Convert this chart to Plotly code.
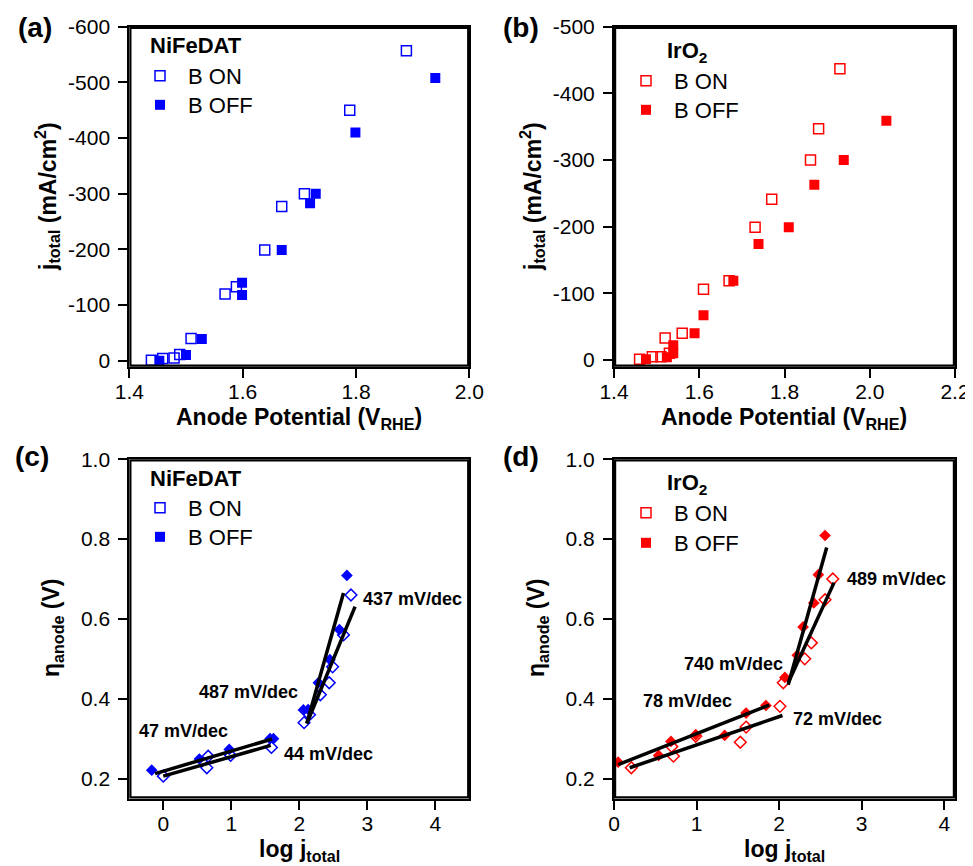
import plotly.graph_objects as go

# ---------------- data ----------------
# (a) NiFeDAT polarisation
a_on_x = [1.439, 1.459, 1.479, 1.489, 1.509, 1.569, 1.589, 1.639, 1.669, 1.709, 1.789, 1.889]
a_on_y = [-1, -4, -5, -11, -40, -120, -133, -199, -277, -300, -450, -557]
a_off_x = [1.453, 1.500, 1.528, 1.599, 1.599, 1.669, 1.719, 1.729, 1.799, 1.940]
a_off_y = [0, -10, -39, -140, -118, -199, -283, -300, -410, -508]

# (b) IrO2 polarisation
b_on_x = [1.460, 1.490, 1.510, 1.520, 1.530, 1.560, 1.610, 1.670, 1.731, 1.770, 1.861, 1.880, 1.930]
b_on_y = [-1, -5, -5, -33, -10, -40, -106, -119, -199, -241, -300, -347, -437]
b_off_x = [1.475, 1.524, 1.539, 1.539, 1.589, 1.610, 1.680, 1.739, 1.810, 1.870, 1.939, 2.039]
b_off_y = [-1, -4, -22, -10, -40, -67, -119, -174, -199, -263, -300, -359]

# (c) NiFeDAT Tafel
c_on_x = [0.0, 0.64, 0.66, 0.99, 1.59, 2.07, 2.15, 2.31, 2.44, 2.49, 2.65, 2.76]
c_on_y = [0.206, 0.227, 0.256, 0.258, 0.278, 0.34, 0.36, 0.41, 0.44, 0.48, 0.56, 0.66]
c_off_x = [-0.17, 0.53, 0.97, 1.57, 1.62, 2.06, 2.13, 2.28, 2.45, 2.59, 2.70]
c_off_y = [0.221, 0.249, 0.273, 0.30, 0.30, 0.372, 0.373, 0.44, 0.498, 0.573, 0.709]
c_fits = [  # (x0, x1), (y0, y1)
    ([-0.12, 1.60], [0.2125, 0.299]),
    ([0.0, 1.58], [0.206, 0.283]),
    ([2.11, 2.65], [0.338, 0.665]),
    ([2.11, 2.82], [0.338, 0.631]),
]
c_labels = ["47 mV/dec", "44 mV/dec", "487 mV/dec", "437 mV/dec"]
c_label_x = [0.29, 2.43, 1.25, 3.67]
c_label_y = [0.318, 0.262, 0.416, 0.650]

# (d) IrO2 Tafel
d_on_x = [0.21, 0.70, 0.72, 0.99, 1.53, 1.60, 2.01, 2.05, 2.31, 2.39, 2.556, 2.65]
d_on_y = [0.227, 0.280, 0.256, 0.306, 0.291, 0.329, 0.381, 0.440, 0.500, 0.540, 0.648, 0.700]
d_off_x = [0.05, 0.54, 0.69, 0.99, 1.34, 1.60, 1.84, 2.07, 2.22, 2.29, 2.42, 2.475, 2.556]
d_off_y = [0.241, 0.258, 0.293, 0.310, 0.308, 0.364, 0.383, 0.4535, 0.509, 0.580, 0.640, 0.711, 0.809]
d_fits = [
    ([0.05, 1.88], [0.235, 0.384]),
    ([0.19, 2.04], [0.227, 0.358]),
    ([2.11, 2.576], [0.435, 0.779]),
    ([2.11, 2.665], [0.440, 0.691]),
]
d_labels = ["78 mV/dec", "72 mV/dec", "740 mV/dec", "489 mV/dec"]
d_label_x = [0.89, 2.71, 1.445, 3.42]
d_label_y = [0.394, 0.348, 0.487, 0.700]

# tick positions / labels
a_xticks = [1.4, 1.6, 1.8, 2.0]
a_xminor = [1.5, 1.7, 1.9]
a_ytick_vals = [0, -100, -200, -300, -400, -500, -600]
a_ytick_text = ["0", "-100", "-200", "-300", "-400", "-500", "-600"]
a_yminor = [-50, -150, -250, -350, -450, -550]
b_xticks = [1.4, 1.6, 1.8, 2.0, 2.2]
b_xminor = [1.5, 1.7, 1.9, 2.1]
b_ytick_vals = [0, -100, -200, -300, -400, -500]
b_ytick_text = ["0", "-100", "-200", "-300", "-400", "-500"]
b_yminor = [-50, -150, -250, -350, -450]
cd_xticks = [0, 1, 2, 3, 4]
cd_xminor = [0.5, 1.5, 2.5, 3.5]
cd_yticks = [0.2, 0.4, 0.6, 0.8, 1.0]
cd_yminor = [0.3, 0.5, 0.7, 0.9]

BLUE = "#0000FF"
RED = "#FF0000"
FONT = "Liberation Sans, Arial, sans-serif"
OFF = 8                     # page body margin
FULL_W, FULL_H = 973, 866
W, H = FULL_W - OFF, FULL_H - OFF

# plot-area boxes in page pixels (left, right, top, bottom) and axis ranges
BOX_A = (129.3, 469.3, 26.7, 366.7)
BOX_B = (614.0, 955.0, 26.7, 366.7)
BOX_C = (129.3, 469.3, 459.3, 798.5)
BOX_D = (614.0, 955.0, 459.3, 798.5)
RANGE_A = ([1.4, 2.0], [10.8, -600])
RANGE_B = ([1.4, 2.2], [10, -500])
RANGE_C = ([-0.5, 4.5], [0.15, 1.0])
RANGE_D = ([0, 4.13], [0.15, 1.0])

fig = go.Figure()


def px(x):
    return (x - OFF) / W


def py(y):
    return 1 - (y - OFF) / H


def add_pts(x, y, color, symbol, filled, xa, ya, name, leg, showleg, size=10):
    fig.add_trace(go.Scatter(
        x=x, y=y, mode="markers", name=name, xaxis=xa, yaxis=ya,
        legend=leg, showlegend=showleg, hoverinfo="skip",
        marker=dict(symbol=symbol, size=size, color=color,
                    line=dict(color=color, width=1.5 if not filled else 0)),
    ))


def add_legend_dummy(name, color, filled, xa, ya, leg):
    fig.add_trace(go.Scatter(x=[None], y=[None], mode="markers", name=name,
                             xaxis=xa, yaxis=ya, legend=leg, showlegend=True,
                             marker=dict(symbol="square" if filled else "square-open",
                                         size=10, color=color,
                                         line=dict(color=color, width=0 if filled else 1.5))))


def frame_and_ticks(xa, ya, box, rng, xmaj, xmin, ymaj, ymin):
    """Plot frame as a line trace on the subplot edges; tick marks as unclipped line markers."""
    L, R, T, B = box
    (x0, x1), (y0, y1) = rng
    fig.add_trace(go.Scatter(x=[x0, x1, x1, x0, x0], y=[y0, y0, y1, y1, y0], mode="lines",
                             xaxis=xa, yaxis=ya, showlegend=False, hoverinfo="skip",
                             line=dict(color="black", width=4.4)))
    ux = (x1 - x0) / (R - L)      # data units per pixel
    uy = (y1 - y0) / (B - T)
    tx, ty, ts = [], [], []
    for vals, ln in ((xmaj, 9), (xmin, 5)):
        for v in vals:
            tx.append(v)
            ty.append(y0 - (ln / 2 + 1) * uy)
            ts.append(ln / 1.4)
    fig.add_trace(go.Scatter(x=tx, y=ty, mode="markers", xaxis=xa, yaxis=ya, cliponaxis=False,
                             showlegend=False, hoverinfo="skip",
                             marker=dict(symbol="line-ns", size=ts, color="black",
                                         line=dict(color="black", width=2))))
    tx, ty, ts = [], [], []
    for vals, ln in ((ymaj, 9), (ymin, 5)):
        for v in vals:
            ty.append(v)
            tx.append(x0 - (ln / 2 + 1) * ux)
            ts.append(ln / 1.4)
    fig.add_trace(go.Scatter(x=tx, y=ty, mode="markers", xaxis=xa, yaxis=ya, cliponaxis=False,
                             showlegend=False, hoverinfo="skip",
                             marker=dict(symbol="line-ew", size=ts, color="black",
                                         line=dict(color="black", width=2))))


# (a)
add_pts(a_on_x, a_on_y, BLUE, "square-open", False, "x", "y", "B ON", "legend", True)
add_pts(a_off_x, a_off_y, BLUE, "square", True, "x", "y", "B OFF", "legend2", True)
frame_and_ticks("x", "y", BOX_A, RANGE_A, a_xticks, a_xminor, a_ytick_vals, a_yminor)
# (b)
add_pts(b_on_x, b_on_y, RED, "square-open", False, "x2", "y2", "B ON", "legend3", True)
add_pts(b_off_x, b_off_y, RED, "square", True, "x2", "y2", "B OFF", "legend4", True)
frame_and_ticks("x2", "y2", BOX_B, RANGE_B, b_xticks, b_xminor, b_ytick_vals, b_yminor)
# (c)
add_pts(c_off_x, c_off_y, BLUE, "diamond", True, "x3", "y3", "B OFF", "legend5", False, 9)
add_pts(c_on_x, c_on_y, BLUE, "diamond-open", False, "x3", "y3", "B ON", "legend5", False, 9)
for fx, fy in c_fits:
    fig.add_trace(go.Scatter(x=fx, y=fy, mode="lines", xaxis="x3", yaxis="y3",
                             showlegend=False, line=dict(color="black", width=3.5)))
add_legend_dummy("B ON", BLUE, False, "x3", "y3", "legend5")
add_legend_dummy("B OFF", BLUE, True, "x3", "y3", "legend6")
frame_and_ticks("x3", "y3", BOX_C, RANGE_C, cd_xticks, cd_xminor, cd_yticks, cd_yminor)
# (d)
add_pts(d_off_x, d_off_y, RED, "diamond", True, "x4", "y4", "B OFF", "legend7", False, 9)
add_pts(d_on_x, d_on_y, RED, "diamond-open", False, "x4", "y4", "B ON", "legend7", False, 9)
for fx, fy in d_fits:
    fig.add_trace(go.Scatter(x=fx, y=fy, mode="lines", xaxis="x4", yaxis="y4",
                             showlegend=False, line=dict(color="black", width=3.5)))
add_legend_dummy("B ON", RED, False, "x4", "y4", "legend7")
add_legend_dummy("B OFF", RED, True, "x4", "y4", "legend8")
frame_and_ticks("x4", "y4", BOX_D, RANGE_D, cd_xticks, cd_xminor, cd_yticks, cd_yminor)

# ---------------- axes ----------------
tickfont = dict(family=FONT, size=21, color="black")


def dom(box):
    L, R, T, B = box
    return [px(L), px(R)], [py(B), py(T)]


def xax(**kw):
    d = dict(showline=True, linewidth=2, linecolor="black", mirror=True,
             ticks="outside", ticklen=9, tickwidth=2, tickcolor="black",
             showgrid=False, zeroline=False, tickfont=tickfont, automargin=False,
             ticklabelstandoff=-4, fixedrange=True, layer="below traces")
    d.update(kw)
    return d


def yax(**kw):
    d = xax(**kw)
    d["ticklabelstandoff"] = 4
    return d


fig.update_layout(
    xaxis=xax(domain=dom(BOX_A)[0], anchor="y", range=RANGE_A[0], tickmode="array",
              tickvals=a_xticks, tickformat=".1f"),
    yaxis=yax(domain=dom(BOX_A)[1], anchor="x", range=RANGE_A[1], tickmode="array",
              tickvals=a_ytick_vals, ticktext=a_ytick_text),
    xaxis2=xax(domain=dom(BOX_B)[0], anchor="y2", range=RANGE_B[0], tickmode="array",
               tickvals=b_xticks, tickformat=".1f"),
    yaxis2=yax(domain=dom(BOX_B)[1], anchor="x2", range=RANGE_B[1], tickmode="array",
               tickvals=b_ytick_vals, ticktext=b_ytick_text),
    xaxis3=xax(domain=dom(BOX_C)[0], anchor="y3", range=RANGE_C[0], tickmode="array",
               tickvals=cd_xticks),
    yaxis3=yax(domain=dom(BOX_C)[1], anchor="x3", range=RANGE_C[1], tickmode="array",
               tickvals=cd_yticks, tickformat=".1f"),
    xaxis4=xax(domain=dom(BOX_D)[0], anchor="y4", range=RANGE_D[0], tickmode="array",
               tickvals=cd_xticks),
    yaxis4=yax(domain=dom(BOX_D)[1], anchor="x4", range=RANGE_D[1], tickmode="array",
               tickvals=cd_yticks, tickformat=".1f"),
)

legfont = dict(family=FONT, size=22, color="black")


def leg(x, y):
    # x: marker centre, y: item centre (reference pixels)
    return dict(x=px(x - 28), y=py(y), xanchor="left", yanchor="middle", bgcolor="rgba(0,0,0,0)",
                font=legfont, tracegroupgap=0, itemsizing="trace", borderwidth=0, itemwidth=46)


fig.update_layout(
    width=W, height=H, margin=dict(l=0, r=0, t=0, b=0, autoexpand=False),
    paper_bgcolor="white", plot_bgcolor="white",
    font=dict(family=FONT, color="black"),
    legend=leg(160, 76), legend2=leg(160, 105),
    legend3=leg(646, 81), legend4=leg(646, 110),
    legend5=leg(160, 508), legend6=leg(160, 537),
    legend7=leg(646, 513), legend8=leg(646, 543),
)

annos = []


def ann(text, x, y, size, xanchor="center", yanchor="middle", angle=0, bold=True, xref="paper", yref="paper"):
    annos.append(dict(text=f"<b>{text}</b>" if bold else text, x=x, y=y, xref=xref, yref=yref,
                      xanchor=xanchor, yanchor=yanchor, showarrow=False, textangle=angle,
                      font=dict(family=FONT, size=size, color="black")))


# panel letters
ann("(a)", px(35), py(28), 28)
ann("(b)", px(521), py(28), 28)
ann("(c)", px(32), py(456), 28)
ann("(d)", px(521), py(456), 28)
# legend titles
ann("NiFeDAT", px(148), py(46), 22, xanchor="left")
ann("IrO<sub>2</sub>", px(665), py(52), 22, xanchor="left")
ann("NiFeDAT", px(148), py(478), 22, xanchor="left")
ann("IrO<sub>2</sub>", px(665), py(484), 22, xanchor="left")
# x titles
ann("Anode Potential (V<sub>RHE</sub>)", px(299), py(419), 23)
ann("Anode Potential (V<sub>RHE</sub>)", px(784), py(419), 23)
ann("log j<sub>total</sub>", px(299), py(850), 23)
ann("log j<sub>total</sub>", px(784), py(850), 23)
# y titles
ann("j<sub>total</sub> (mA/cm<sup>2</sup>)", px(47), py(197), 23, angle=-90)
ann("j<sub>total</sub> (mA/cm<sup>2</sup>)", px(532), py(197), 23, angle=-90)
ann("η<sub>anode</sub> (V)", px(52), py(628), 23, angle=-90)
ann("η<sub>anode</sub> (V)", px(537), py(628), 23, angle=-90)
# slope labels
for t, x, y in zip(c_labels, c_label_x, c_label_y):
    ann(t, x, y, 18, xref="x3", yref="y3")
for t, x, y in zip(d_labels, d_label_x, d_label_y):
    ann(t, x, y, 18, xref="x4", yref="y4")

fig.update_layout(annotations=annos)
fig.write_html("out.html")
